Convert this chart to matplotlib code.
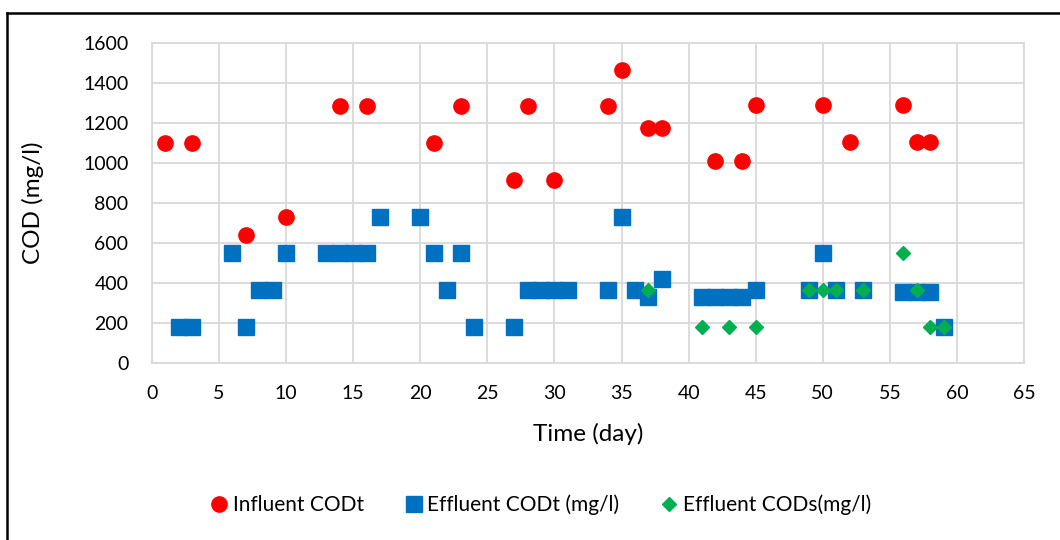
import matplotlib
matplotlib.use("Agg")
import matplotlib.pyplot as plt
from matplotlib.lines import Line2D

plt.rcParams['font.family'] = ['Lato', 'DejaVu Sans']

# Influent CODt
inf_day = [1, 3, 7, 10, 14, 16, 21, 23, 27, 28, 30, 34, 35, 37, 38, 42, 44, 45, 50, 52, 56, 57, 58]
inf_cod = [1100, 1100, 640, 730, 1285, 1285, 1100, 1285, 915, 1285, 915, 1285, 1465, 1175, 1175,
           1010, 1010, 1290, 1290, 1105, 1290, 1105, 1105]

# Effluent CODt
efft_day = [2, 3, 6, 7, 8, 9, 10, 13, 14, 15, 16, 17, 20, 21, 22, 23, 24, 27, 28, 29, 30, 31,
            34, 35, 36, 37, 38, 41, 42, 43, 44, 45, 49, 50, 51, 53, 56, 57, 58, 59]
efft_cod = [180, 180, 550, 180, 365, 365, 550, 550, 550, 550, 550, 730, 730, 550, 365, 550, 180,
            180, 365, 365, 365, 365, 365, 730, 365, 330, 420, 330, 330, 330, 330, 365, 365, 550,
            365, 365, 355, 355, 355, 180]

# Effluent CODs
effs_day = [37, 41, 43, 45, 49, 50, 51, 53, 56, 57, 58, 59]
effs_cod = [365, 180, 180, 180, 365, 365, 365, 365, 550, 365, 180, 180]

fig = plt.figure(figsize=(10.6, 5.4), dpi=100)
ax = fig.add_axes([152/1060, 1 - 363/540, (1024-152)/1060, (363-43)/540])

ax.plot(inf_day, inf_cod, 'o', color='#FF0000', markersize=11, linestyle='none',
        label='Influent CODt', zorder=3)
ax.plot(efft_day, efft_cod, 's', color='#0070C0', markersize=11, linestyle='none',
        label='Effluent CODt (mg/l)', zorder=3)
ax.plot(effs_day, effs_cod, 'D', color='#00B050', markersize=7, linestyle='none',
        label='Effluent CODs(mg/l)', zorder=4)

ax.set_xlim(0, 65)
ax.set_ylim(0, 1600)
ax.set_xticks(range(0, 66, 5))
ax.set_yticks(range(0, 1601, 200))
ax.grid(True, color='#D9D9D9', linewidth=1.3)
ax.set_axisbelow(True)
for s in ax.spines.values():
    s.set_color('#D9D9D9')
    s.set_linewidth(1.3)
ax.tick_params(length=0, labelsize=14, colors='black')
ax.tick_params(axis='x', pad=16)
ax.tick_params(axis='y', pad=17)

ax.set_xlabel('Time (day)', fontsize=17.5, labelpad=15)
ax.set_ylabel('COD (mg/l)', fontsize=17.5, labelpad=28)

fig.legend(loc='center', bbox_to_anchor=(541/1060, 1 - 505/540), ncol=3, frameon=False,
           fontsize=15, handlelength=0.8, handletextpad=0.25, columnspacing=2.0)

# chart border (only top and left visible in the crop)
fig.add_artist(Line2D([7/1060, 7/1060], [0, 1 - 13/540], transform=fig.transFigure,
                      color='black', linewidth=1.8))
fig.add_artist(Line2D([7/1060, 1], [1 - 13/540, 1 - 13/540], transform=fig.transFigure,
                      color='black', linewidth=1.8))

fig.savefig('out.png', dpi=100, facecolor='white')
